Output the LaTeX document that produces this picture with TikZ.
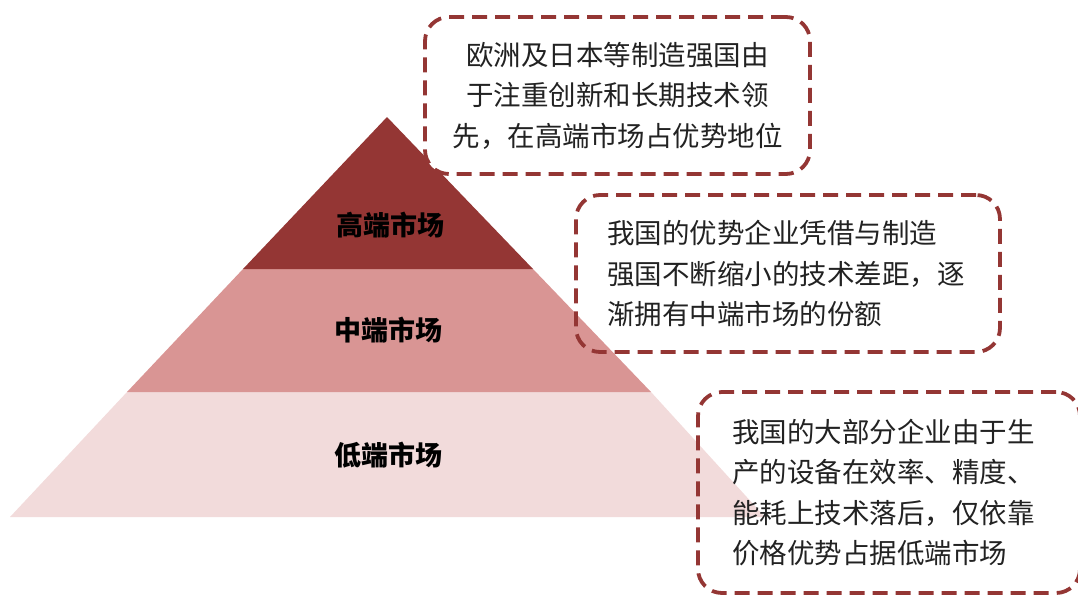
\documentclass[tikz,border=0pt]{standalone}
\usepackage{fontspec}
\newfontfamily\cjk{Noto Sans CJK SC}
\definecolor{topred}{HTML}{943634}
\definecolor{midred}{HTML}{D99594}
\definecolor{lowred}{HTML}{F2DBDB}
\definecolor{notegray}{HTML}{222222}
\tikzset{
  notebox/.style={draw=topred, line width=3.8pt, dash pattern=on 15pt off 8pt,
    rounded corners=24pt, inner sep=0pt, text=notegray,
    font=\cjk\fontsize{27.5}{40.5}\selectfont},
  tierlabel/.style={font=\cjk\bfseries\fontsize{27}{30}\selectfont}
}

\begin{document}
\begin{tikzpicture}[x=1pt,y=-1pt]
\useasboundingbox (0,0) rectangle (1078,595);
% pyramid tiers
\fill[lowred] (127,392) -- (651,392) -- (765,517) -- (10,517) -- cycle;
\fill[midred] (243,269) -- (533,269) -- (651,392) -- (127,392) -- cycle;
\fill[topred] (387,117) -- (533,269) -- (243,269) -- cycle;
\path (390,225) node[tierlabel] (high) {高端市场};
\path (388,330) node[tierlabel] (mid) {中端市场};
\path (388,455) node[tierlabel] (low) {低端市场};
% notes
\path (617.5,95.5) node[notebox, fill=white, minimum width=385pt, minimum height=157pt,
  align=center] (notehigh) {欧洲及日本等制造强国由\\于注重创新和长期技术领\\先，在高端市场占优势地位};
\path (788,273.5) node[notebox, minimum width=424pt, minimum height=157pt,
  text width=362pt, align=left] (notemid) {我国的优势企业凭借与制造\\强国不断缩小的技术差距，逐\\渐拥有中端市场的份额};
\path (889,492.5) node[notebox, minimum width=382pt, minimum height=201pt,
  text width=314pt, align=left] (notelow) {我国的大部分企业由于生\\产的设备在效率、精度、\\能耗上技术落后，仅依靠\\价格优势占据低端市场};
\end{tikzpicture}
\end{document}
